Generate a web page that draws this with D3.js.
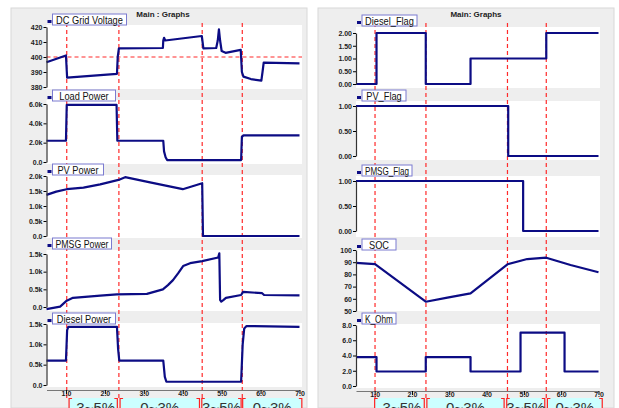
<!DOCTYPE html>
<html lang="en">
<head>
<meta charset="UTF-8">
<title>Main : Graphs</title>
<script src="https://d3js.org/d3.v7.min.js"></script>
<style>
    body { margin: 0; background: #fff; }
    .tick text { font-family: "Liberation Sans", Arial, sans-serif; font-size: 7px; font-weight: bold; fill: #222; }
    .legend text { font-family: "Liberation Sans", Arial, sans-serif; font-size: 11px; fill: #111; }
    .series { fill: none; stroke: #0c0c84; stroke-width: 2.2; stroke-linejoin: round; }
    .event { stroke: #ff2a2a; stroke-width: 1.2; stroke-dasharray: 4,3; }
    .title { font-family: "Liberation Sans", Arial, sans-serif; font-size: 8px; font-weight: bold; fill: #222; }
    .band text { font-family: "Liberation Sans", Arial, sans-serif; font-size: 15px; fill: #333; }
</style>
</head>
<body>
<svg width="619" height="408"></svg>
<script>
// ---- data (time in s) ----
var dcTime  = [0.5, 1.0, 1.02, 1.03, 2.31, 2.33, 2.36, 3.49, 3.5, 3.52, 3.55, 4.49, 4.51, 4.53, 4.86, 4.9, 4.93, 4.96, 5.0, 5.1, 5.49, 5.52, 5.56, 5.75, 6.02, 6.05, 6.08, 7.0];
var dcVolt  = [396.5, 401, 391, 386.2, 388.8, 400, 405.8, 406, 411, 412.8, 411, 414, 410, 405.8, 406, 411, 418.5, 411, 404, 402.8, 404.8, 390, 386.9, 385.3, 384.2, 390, 396.2, 395.8];

var loadTime  = [0.5, 1.0, 1.02, 2.3, 2.32, 3.5, 3.52, 3.56, 3.6, 5.5, 5.52, 5.56, 7.0];
var loadPower = [2200, 2200, 5900, 5900, 2200, 2200, 1100, 500, 200, 200, 2600, 2750, 2750];

var pvTime  = [0.5, 0.75, 1.02, 1.45, 1.88, 2.35, 2.52, 3.16, 4.0, 4.5, 4.52, 7.0];
var pvPower = [1370, 1480, 1560, 1610, 1720, 1870, 1960, 1790, 1560, 1760, 0, 0];

var pmsgTime  = [0.5, 0.85, 1.02, 1.18, 1.88, 2.31, 3.08, 3.49, 3.62, 3.75, 3.88, 4.01, 4.19, 4.5, 4.91, 4.94, 4.96, 4.99, 5.05, 5.11, 5.5, 5.55, 6.04, 6.09, 7.0];
var pmsgPower = [-60, 10, 180, 260, 320, 360, 370, 500, 620, 760, 950, 1160, 1240, 1300, 1400, 1520, 200, 150, 200, 260, 340, 430, 390, 340, 330];

var dieselTime  = [0.5, 1.0, 1.03, 1.06, 2.31, 2.34, 2.37, 3.5, 3.54, 3.58, 5.5, 5.54, 5.58, 5.64, 7.0];
var dieselPower = [600, 600, 1350, 1430, 1430, 880, 600, 600, 200, 80, 80, 1000, 1390, 1450, 1430];

var dflagTime = [0.5, 1.05, 1.05, 2.37, 2.37, 3.57, 3.57, 5.6, 5.6, 7.0];
var dflag     = [0, 0, 2, 2, 0, 0, 1, 1, 2, 2];

var pvflagTime = [0.5, 4.58, 4.58, 7.0];
var pvflag     = [1, 1, 0, 0];

var pmsgflagTime = [0.5, 4.98, 4.98, 7.0];
var pmsgflag     = [1, 1, 0, 0];

var socTime = [0.5, 1.01, 2.37, 2.95, 3.57, 4.56, 5.09, 5.6, 6.25, 7.0];
var soc     = [89.5, 88.5, 57.6, 61, 64.5, 88.3, 92.6, 93.7, 87.7, 81.8];

var kTime = [0.5, 1.05, 1.05, 2.37, 2.37, 3.57, 3.57, 4.91, 4.91, 6.09, 6.09, 7.0];
var kOhm  = [3.8, 3.8, 1.9, 1.9, 3.8, 3.8, 1.9, 1.9, 7.0, 7.0, 1.9, 1.9];

var xTicks = [1, 2, 3, 4, 5, 6, 7];
var leftEvents  = [1.02, 2.36, 4.5, 5.53];
var rightEvents = [1.01, 2.375, 4.56, 5.6];
var bandLabels  = ["-3~5%", "0~3%", "3~5%", "0~3%"];
var leftBands   = [[1.08, 2.32], [2.39, 4.43], [4.49, 5.5], [5.54, 7.06]];
var rightBands  = [[1.0, 2.33], [2.4, 4.47], [4.54, 5.56], [5.63, 7.1]];

function kFmt(v) { return v === 0 ? "0.0" : (v / 1000).toFixed(1) + "k"; }

var sides = [
    { title: "Main : Graphs", titleX: 163, bg: [11, 8, 296, 400], x0: 46.5, x1: 299.5, white: 302, axisY: 390,
      events: leftEvents, bands: leftBands,
      panels: [
        { label: "DC Grid Voltage", t: dcTime, v: dcVolt, domain: [380, 420], ticks: [380, 390, 400, 410, 420], fmt: d3.format("d"), y: [87, 27], white: [25, 89], ly: 14, lw: 74, ref: 400 },
        { label: "Load Power", t: loadTime, v: loadPower, domain: [0, 6000], ticks: [0, 2000, 4000, 6000], fmt: kFmt, y: [162, 104], white: [100, 164], ly: 90, lw: 63 },
        { label: "PV Power", t: pvTime, v: pvPower, domain: [0, 2000], ticks: [0, 500, 1000, 1500, 2000], fmt: kFmt, y: [236, 176], white: [175, 238], ly: 164, lw: 51 },
        { label: "PMSG Power", t: pmsgTime, v: pmsgPower, domain: [0, 1500], ticks: [0, 500, 1000, 1500], fmt: kFmt, y: [307, 254], white: [250, 311], ly: 238, lw: 59 },
        { label: "Diesel Power", t: dieselTime, v: dieselPower, domain: [0, 1500], ticks: [0, 500, 1000, 1500], fmt: kFmt, y: [385, 324], white: [323, 387], ly: 313, lw: 63 }
      ] },
    { title: "Main: Graphs", titleX: 476, bg: [318, 8, 296, 400], x0: 356, x1: 598.5, white: 600, axisY: 391,
      events: rightEvents, bands: rightBands,
      panels: [
        { label: "Diesel_Flag", t: dflagTime, v: dflag, domain: [0, 2], ticks: [0, 0.5, 1, 1.5, 2], fmt: d3.format(".2f"), y: [84, 33], white: [27, 88], ly: 15, lw: 55 },
        { label: "PV_Flag", t: pvflagTime, v: pvflag, domain: [0, 1], ticks: [0, 0.5, 1], fmt: d3.format(".2f"), y: [156, 106], white: [101, 160], ly: 90, lw: 44 },
        { label: "PMSG_Flag", t: pmsgflagTime, v: pmsgflag, domain: [0, 1], ticks: [0, 0.5, 1], fmt: d3.format(".2f"), y: [231, 181], white: [176, 237], ly: 165, lw: 50 },
        { label: "SOC", t: socTime, v: soc, domain: [50, 100], ticks: [50, 60, 70, 80, 90, 100], fmt: d3.format("d"), y: [311, 250], white: [250, 311], ly: 239, lw: 34 },
        { label: "K_Ohm", t: kTime, v: kOhm, domain: [0, 8], ticks: [0, 2, 4, 6, 8], fmt: d3.format(".1f"), y: [386, 325], white: [324, 388], ly: 313, lw: 34 }
      ] }
];

var svg = d3.select("svg");

sides.forEach(function(s) {
    var g = svg.append("g");
    var x = d3.scaleLinear().domain([0.5, 7]).range([s.x0, s.x1]);

    g.append("rect")
        .attr("x", s.bg[0]).attr("y", s.bg[1])
        .attr("width", s.bg[2]).attr("height", s.bg[3])
        .attr("fill", "#eeeeee").attr("stroke", "#d8d8d8");

    g.append("text").attr("class", "title")
        .attr("x", s.titleX).attr("y", 17)
        .attr("text-anchor", "middle")
        .text(s.title);

    s.panels.forEach(function(p) {
        g.append("rect")
            .attr("x", s.x0).attr("y", p.white[0])
            .attr("width", s.white - s.x0).attr("height", p.white[1] - p.white[0])
            .attr("fill", "#fff");
    });

    // event lines
    g.selectAll(".ev").data(s.events).enter().append("line")
        .attr("class", "event")
        .attr("x1", function(d) { return x(d); }).attr("x2", function(d) { return x(d); })
        .attr("y1", 23).attr("y2", 400);

    s.panels.forEach(function(p) {
        var y = d3.scaleLinear().domain(p.domain).range(p.y);

        if (p.ref !== undefined) {
            g.append("line").attr("class", "event")
                .attr("x1", s.x0).attr("x2", s.white)
                .attr("y1", y(p.ref)).attr("y2", y(p.ref));
        }

        var line = d3.line()
            .x(function(d) { return x(d[0]); })
            .y(function(d) { return y(d[1]); });

        g.append("path").attr("class", "series")
            .datum(d3.zip(p.t, p.v))
            .attr("d", line);

        var ax = g.append("g")
            .attr("transform", "translate(" + s.x0 + ",0)")
            .call(d3.axisLeft(y).tickValues(p.ticks).tickFormat(p.fmt)
                  .tickSize(3).tickSizeOuter(0).tickPadding(1));
        ax.select(".domain").attr("stroke", "#333").attr("stroke-width", 1.2);

        // legend
        var lg = g.append("g").attr("class", "legend");
        lg.append("rect")
            .attr("x", s.x0 + 1).attr("y", p.ly + 6)
            .attr("width", 4).attr("height", 3)
            .attr("fill", "#0c0c84");
        lg.append("rect")
            .attr("x", s.x0 + 6).attr("y", p.ly)
            .attr("width", p.lw).attr("height", 11)
            .attr("fill", "#fff").attr("stroke", "#7b7bd0");
        var lt = lg.append("text")
            .attr("x", s.x0 + 6 + p.lw / 2).attr("y", p.ly + 9.5)
            .attr("text-anchor", "middle")
            .text(p.label);
        var natural = lt.node().getComputedTextLength();
        lt.attr("textLength", Math.min(natural * 0.84, p.lw - 6))
          .attr("lengthAdjust", "spacingAndGlyphs");
    });

    // x axis
    var xa = g.append("g")
        .attr("transform", "translate(0," + s.axisY + ")")
        .call(d3.axisBottom(x).tickValues(xTicks).tickFormat(d3.format(".1f"))
              .tickSize(4).tickSizeOuter(0).tickPadding(-3));
    xa.select(".domain").attr("stroke", "#777");

    // bottom bands
    var bands = g.selectAll(".band").data(s.bands).enter().append("g").attr("class", "band");
    bands.append("rect")
        .attr("x", function(d) { return x(d[0]); })
        .attr("y", 398)
        .attr("width", function(d) { return x(d[1]) - x(d[0]); })
        .attr("height", 12)
        .attr("fill", "#ccffff");
    bands.append("path")
        .attr("fill", "none").attr("stroke", "#ff2020").attr("stroke-width", 1.2)
        .attr("d", function(d) {
            var a = x(d[0]), b = x(d[1]);
            return "M" + (a + 3) + ",398.5H" + a + "V410M" + (b - 3) + ",398.5H" + b + "V410";
        });
    bands.append("text")
        .attr("x", function(d) { return (x(d[0]) + x(d[1])) / 2; })
        .attr("y", 413)
        .attr("text-anchor", "middle")
        .text(function(d, i) { return bandLabels[i]; });
});
</script>
</body>
</html>
